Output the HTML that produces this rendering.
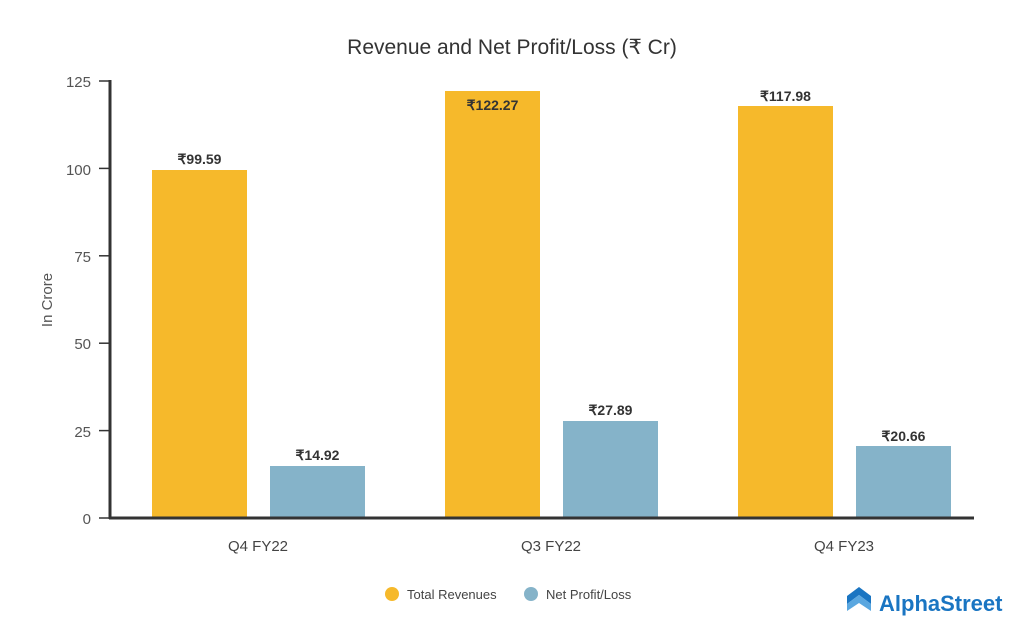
<!DOCTYPE html>
<html><head><meta charset="utf-8"><style>
html,body{margin:0;padding:0;background:#fff;}
svg{display:block;font-family:"Liberation Sans",sans-serif;}
</style></head><body>
<svg width="1024" height="640" viewBox="0 0 1024 640" xmlns="http://www.w3.org/2000/svg">
<rect width="1024" height="640" fill="#fff"/>
<text x="512" y="54" text-anchor="middle" font-size="21" fill="#333">Revenue and Net Profit/Loss (₹ Cr)</text>
<g font-size="15" fill="#555" text-anchor="end">
<text x="91" y="87">125</text>
<text x="91" y="175">100</text>
<text x="91" y="262">75</text>
<text x="91" y="349">50</text>
<text x="91" y="437">25</text>
<text x="91" y="524">0</text>
</g>
<g stroke="#333" stroke-width="1.5">
<line x1="99" y1="81" x2="110" y2="81"/>
<line x1="99" y1="168.4" x2="110" y2="168.4"/>
<line x1="99" y1="255.8" x2="110" y2="255.8"/>
<line x1="99" y1="343.2" x2="110" y2="343.2"/>
<line x1="99" y1="430.6" x2="110" y2="430.6"/>
<line x1="99" y1="518" x2="110" y2="518"/>
</g>
<text transform="translate(52,300) rotate(-90)" text-anchor="middle" font-size="15" fill="#555">In Crore</text>
<g fill="#f6b92b">
<rect x="152" y="170" width="95" height="348"/>
<rect x="445" y="91" width="95" height="427"/>
<rect x="738" y="106" width="95" height="412"/>
</g>
<g fill="#85b3c9">
<rect x="270" y="466" width="95" height="52"/>
<rect x="563" y="421" width="95" height="97"/>
<rect x="856" y="446" width="95" height="72"/>
</g>
<line x1="110" y1="80" x2="110" y2="519" stroke="#333" stroke-width="3"/>
<line x1="109" y1="518" x2="974" y2="518" stroke="#333" stroke-width="3"/>
<g font-size="14" font-weight="bold" fill="#333" text-anchor="middle">
<text x="199.5" y="164">₹99.59</text>
<text x="317.5" y="460">₹14.92</text>
<text x="492.5" y="110">₹122.27</text>
<text x="610.5" y="415">₹27.89</text>
<text x="785.5" y="101">₹117.98</text>
<text x="903.5" y="441">₹20.66</text>
</g>
<g font-size="15" fill="#444" text-anchor="middle">
<text x="258" y="551">Q4 FY22</text>
<text x="551" y="551">Q3 FY22</text>
<text x="844" y="551">Q4 FY23</text>
</g>
<circle cx="392" cy="594" r="7" fill="#f6b92b"/>
<text x="407" y="599" font-size="13" fill="#444">Total Revenues</text>
<circle cx="531" cy="594" r="7" fill="#85b3c9"/>
<text x="546" y="599" font-size="13" fill="#444">Net Profit/Loss</text>
<g transform="translate(847,590)">
<path d="M0,6 L12,-3 L24,6 L24,14 L12,5 L0,14 Z" fill="#1a75c2"/>
<path d="M0,14 L12,5 L24,14 L24,21 L12,13 L0,21 Z" fill="#5aa7e0"/>
</g>
<text x="879" y="611" font-size="22" font-weight="bold" fill="#1a75c2">AlphaStreet</text>
</svg>
</body></html>
